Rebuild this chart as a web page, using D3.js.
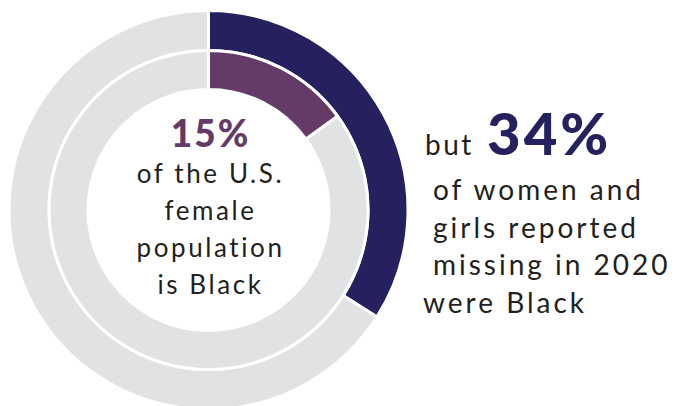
<!DOCTYPE html>
<html>
<head>
<meta charset="utf-8">
<script src="https://cdn.jsdelivr.net/npm/d3@7"></script>
<style>
  body { margin: 0; background: #fff; }
  svg { display: block; }
</style>
</head>
<body>
<div id="chart"></div>
<script>
const innerShare = [15, 85],   // % of U.S. female population that is Black
    outerShare = [34, 66];     // % of women and girls reported missing in 2020 who were Black

const innerColors = ["#643a67", "#e1e2e4"],
    outerColors = ["#24215e", "#e1e2e4"];

const innerLines = ["of the U.S.", "female", "population", "is Black"],
    rightLines = ["of women and", "girls reported", "missing in 2020"];

const width = 676,
    height = 406,
    cx = 208.5,
    cy = 210;

const svg = d3.select("#chart")
    .append("svg")
    .attr("width", width)
    .attr("height", height)
    .attr("viewBox", [0, 0, width, height]);

const pie = d3.pie().sort(null).value(d => d);

// white strokes make the gaps between slices and rings
const outerArc = d3.arc().innerRadius(159.5).outerRadius(199.5),
    innerArc = d3.arc().innerRadius(120.5).outerRadius(159.5);

const g = svg.append("g").attr("transform", `translate(${cx},${cy})`);

g.append("g")
    .selectAll("path")
    .data(pie(outerShare))
    .join("path")
    .attr("d", outerArc)
    .attr("fill", (d, i) => outerColors[i])
    .attr("stroke", "#fff")
    .attr("stroke-width", 3);

g.append("g")
    .selectAll("path")
    .data(pie(innerShare))
    .join("path")
    .attr("d", innerArc)
    .attr("fill", (d, i) => innerColors[i])
    .attr("stroke", "#fff")
    .attr("stroke-width", 3);

const font = "Lato, sans-serif",
    textColor = "#231f20";

svg.append("text")
    .attr("x", cx + 2)
    .attr("y", 147)
    .attr("text-anchor", "middle")
    .attr("font-family", font)
    .attr("font-weight", 900)
    .attr("font-size", 37)
    .attr("letter-spacing", 2)
    .attr("fill", innerColors[0])
    .text(innerShare[0] + "%");

svg.append("g")
    .selectAll("text")
    .data(innerLines)
    .join("text")
    .attr("x", cx + 2)
    .attr("y", (d, i) => 183 + i * 37)
    .attr("text-anchor", "middle")
    .attr("font-family", font)
    .attr("font-size", 26)
    .attr("letter-spacing", 2.6)
    .attr("fill", textColor)
    .text(d => d);

svg.append("text")
    .attr("x", 425)
    .attr("y", 155)
    .attr("font-family", font)
    .attr("font-size", 28)
    .attr("letter-spacing", 2.5)
    .attr("fill", textColor)
    .text("but");

svg.append("text")
    .attr("x", 487)
    .attr("y", 155)
    .attr("font-family", font)
    .attr("font-size", 58)
    .attr("font-weight", 900)
    .attr("letter-spacing", 3)
    .attr("fill", outerColors[0])
    .text(outerShare[0] + "%");

svg.append("g")
    .selectAll("text")
    .data(rightLines)
    .join("text")
    .attr("x", 433)
    .attr("y", (d, i) => 200 + i * 37.5)
    .attr("font-family", font)
    .attr("font-size", 28)
    .attr("letter-spacing", 3)
    .attr("fill", textColor)
    .text(d => d);

svg.append("text")
    .attr("x", 423)
    .attr("y", 313)
    .attr("font-family", font)
    .attr("font-size", 28)
    .attr("letter-spacing", 3)
    .attr("fill", textColor)
    .text("were Black");
</script>
</body>
</html>
